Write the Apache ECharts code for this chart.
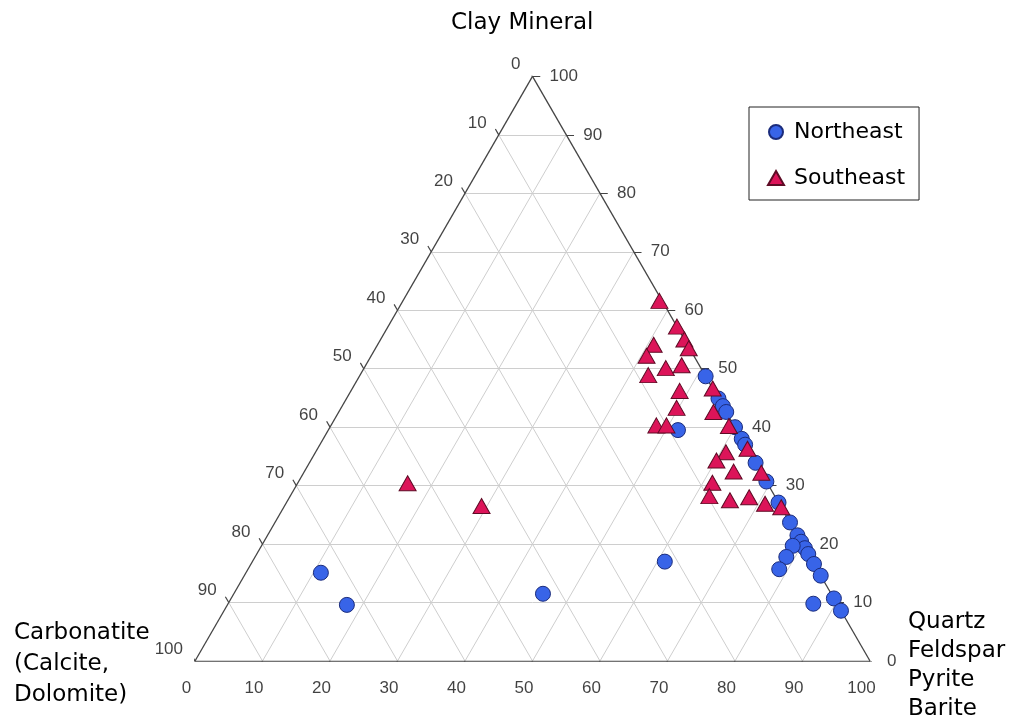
<!DOCTYPE html>
<html>
<head>
<meta charset="utf-8">
<script src="https://cdn.jsdelivr.net/npm/echarts@6/dist/echarts.min.js"></script>
<style>
html,body{margin:0;padding:0;background:#fff;}
#chart{width:1011px;height:720px;}
</style>
</head>
<body>
<div id="chart"></div>
<script>
// Ternary axis ticks (percent)
const ticks = [0, 10, 20, 30, 40, 50, 60, 70, 80, 90, 100];
const axisTitles = {
  top: 'Clay Mineral',
  left: 'Carbonatite\n(Calcite,\nDolomite)',
  right: 'Quartz\nFeldspar\nPyrite\nBarite'
};
const seriesNames = ['Northeast', 'Southeast'];

// Compositions: [Quartz/Feldspar/Pyrite/Barite, Clay Mineral, Carbonatite] in %
const northeast = [
  [51.3, 48.7, 0.0], [55.1, 44.9, 0.0], [56.4, 43.6, 0.0], [57.4, 42.6, 0.0],
  [51.8, 39.5, 8.7], [60.0, 40.0, 0.0], [62.0, 38.0, 0.0], [63.0, 37.0, 0.0],
  [66.1, 33.9, 0.0], [69.3, 30.7, 0.0], [72.9, 27.1, 0.0], [76.3, 23.7, 0.0],
  [78.5, 21.5, 0.0], [79.6, 20.4, 0.0], [80.7, 19.3, 0.0], [81.7, 18.3, 0.0],
  [78.7, 19.7, 1.6], [78.7, 17.8, 3.5], [78.7, 15.7, 5.6], [83.4, 16.6, 0.0],
  [85.4, 14.6, 0.0], [89.3, 10.7, 0.0], [91.4, 8.6, 0.0], [86.7, 9.8, 3.5],
  [61.1, 17.0, 21.9], [11.1, 15.1, 73.8], [17.7, 9.6, 72.7], [45.8, 11.5, 42.7]
];
const southeast = [
  [38.0, 61.6, 0.4], [42.8, 57.2, 0.0], [45.0, 55.0, 0.0], [46.4, 53.5, 0.1],
  [40.9, 54.1, 5.0], [40.8, 52.2, 7.0], [44.7, 50.1, 5.2], [46.8, 50.6, 2.6],
  [42.7, 48.9, 8.4], [48.7, 46.2, 5.1], [49.7, 43.3, 7.0], [48.2, 40.3, 11.5],
  [49.7, 40.3, 10.0], [53.4, 46.6, 0.0], [55.5, 42.6, 1.9], [59.0, 40.2, 0.8],
  [60.8, 35.7, 3.5], [60.1, 34.3, 5.6], [63.7, 36.3, 0.0], [63.6, 32.4, 4.0],
  [67.8, 32.2, 0.0], [61.4, 30.5, 8.1], [62.1, 28.2, 9.7], [65.5, 27.5, 7.0],
  [68.1, 28.0, 3.9], [71.0, 26.9, 2.1], [73.7, 26.3, 0.0], [16.3, 30.4, 53.3],
  [29.2, 26.5, 44.3]
];

// ternary (quartz, clay) -> cartesian units used by hidden value axes
function toXY(q, c) { return [q + c / 2, c]; }

const inner = ticks.filter(v => v > 0 && v < 100);
const gridSegs = [];
inner.forEach(v => {
  gridSegs.push({coords: [toXY(0, v), toXY(100 - v, v)]});          // clay const
  gridSegs.push({coords: [toXY(v, 0), toXY(v, 100 - v)]});          // quartz const
  gridSegs.push({coords: [toXY(0, 100 - v), toXY(100 - v, 0)]});    // carbonatite const
});
const edgeSegs = [
  {coords: [toXY(0, 0), toXY(100, 0)]},
  {coords: [toXY(100, 0), toXY(0, 100)]},
  {coords: [toXY(0, 100), toXY(0, 0)]}
];
const tickSegs = [];
ticks.forEach(v => {
  tickSegs.push({coords: [toXY(v, 0), toXY(v, -1)]});                    // bottom (quartz)
  tickSegs.push({coords: [toXY(100 - v, v), toXY(100 - v + 1.15, v)]});  // right (clay)
  tickSegs.push({coords: [toXY(0, 100 - v), toXY(-1, 100 - v + 1)]});    // left (carbonatite)
});

const labelFont = {fontFamily: 'Liberation Sans', fontSize: 17, color: '#111'};
function labelSeries(points, opts) {
  return {
    type: 'scatter', symbol: 'circle', symbolSize: 1, silent: true, clip: false,
    itemStyle: {color: 'rgba(0,0,0,0)'},
    data: points,
    label: Object.assign({show: true, position: 'inside', formatter: p => p.value[2]}, labelFont, opts),
    z: 5
  };
}
const bottomLabels = ticks.map(v => toXY(v, 0).concat([String(v)]));
const rightLabels = ticks.map(v => toXY(100 - v, v).concat([String(v)]));
const leftLabels = ticks.map(v => toXY(0, 100 - v).concat([String(v)]));

const chart = echarts.init(document.getElementById('chart'), null, {renderer: 'canvas'});
chart.setOption({
  animation: false,
  backgroundColor: '#fff',
  grid: {left: 195, right: 141, top: 76.4, bottom: 59},
  xAxis: {type: 'value', min: 0, max: 100, show: false},
  yAxis: {type: 'value', min: 0, max: 100, show: false},
  legend: {
    orient: 'vertical', left: 749, top: 107,
    data: seriesNames,
    borderColor: '#222', borderWidth: 1, borderRadius: 0,
    padding: [12, 14, 9, 18], itemGap: 20, itemWidth: 16, itemHeight: 14,
    textStyle: {fontFamily: 'DejaVu Sans', fontSize: 22, color: '#000', lineHeight: 26, padding: [0, 0, 0, 5]}
  },
  graphic: [
    {type: 'text', left: 451, top: 12, style: {text: axisTitles.top, fontFamily: 'DejaVu Sans', fontSize: 23, fill: '#000'}},
    {type: 'text', left: 14, top: 618, style: {text: axisTitles.left, fontFamily: 'DejaVu Sans', fontSize: 23, lineHeight: 31, fill: '#000'}},
    {type: 'text', left: 908, top: 608, style: {text: axisTitles.right, fontFamily: 'DejaVu Sans', fontSize: 23, lineHeight: 29, fill: '#000'}}
  ],
  series: [
    {type: 'lines', coordinateSystem: 'cartesian2d', silent: true, data: gridSegs,
     lineStyle: {color: '#cecece', width: 1, opacity: 1}, z: 1},
    {type: 'lines', coordinateSystem: 'cartesian2d', silent: true, data: edgeSegs,
     lineStyle: {color: '#444', width: 1.3, opacity: 1}, z: 2},
    {type: 'lines', coordinateSystem: 'cartesian2d', silent: true, data: tickSegs,
     lineStyle: {color: '#444', width: 1.2, opacity: 1}, z: 2},
    labelSeries(bottomLabels, {align: 'center', verticalAlign: 'middle', offset: [-8.5, 27]}),
    labelSeries(rightLabels, {align: 'left', verticalAlign: 'middle', offset: [17, 0]}),
    labelSeries(leftLabels, {align: 'right', verticalAlign: 'middle', offset: [-12, -12]}),
    {
      name: seriesNames[0], type: 'scatter', symbol: 'circle', symbolSize: 15, clip: false,
      data: northeast.map(d => toXY(d[0], d[1])),
      itemStyle: {color: '#3864e8', borderColor: '#1b2c7c', borderWidth: 1, opacity: 1}, z: 10
    },
    {
      name: seriesNames[1], type: 'scatter', symbol: 'triangle', symbolSize: [17, 15], clip: false,
      data: southeast.map(d => toXY(d[0], d[1])),
      itemStyle: {color: '#dc1459', borderColor: '#5e0b25', borderWidth: 1, opacity: 1}, z: 11
    }
  ]
});
</script>
</body>
</html>
